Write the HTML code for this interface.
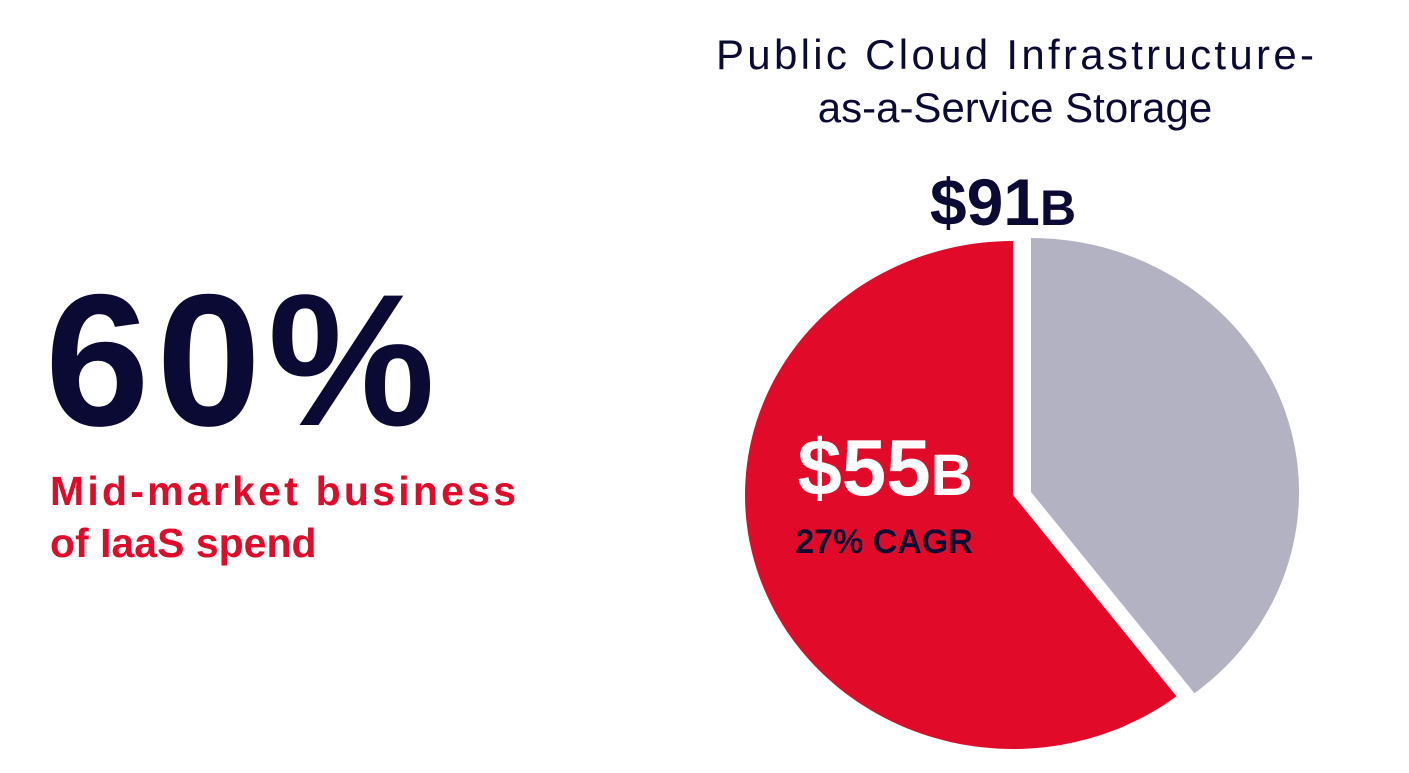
<!DOCTYPE html>
<html><head><meta charset="utf-8"><style>
body{margin:0;width:1409px;height:773px;background:#fff;overflow:hidden;font-family:"Liberation Sans",sans-serif;}
svg{position:absolute;left:0;top:0}
</style></head><body>
<svg width="1409" height="773">
<text x="45" y="425" font-size="188" font-weight="bold" fill="#0b0a35" textLength="390">60%</text>
<text x="50" y="505" font-size="41" font-weight="bold" fill="#e10a28" textLength="466">Mid-market business</text>
<text x="50" y="557" font-size="41" font-weight="bold" fill="#e10a28">of IaaS spend</text>
<text x="1015" y="69" font-size="42" text-anchor="middle" fill="#0b0a35" textLength="598">Public Cloud Infrastructure-</text>
<text x="1015" y="122" font-size="42" text-anchor="middle" fill="#0b0a35">as-a-Service Storage</text>
<g id="slices"></g>
<text x="1003" y="225" font-size="66" font-weight="bold" text-anchor="middle" fill="#0b0a35">$91<tspan font-size="50">B</tspan></text>
<text x="885" y="495" font-size="80" font-weight="bold" text-anchor="middle" fill="#fff">$55<tspan font-size="58">B</tspan></text>
<text x="884" y="553" font-size="34" font-weight="bold" text-anchor="middle" fill="#0b0a35">27% CAGR</text>
</svg>
<script>
const categories=["Mid-market","Other"];
const values=[55,36];
const colors=["#e10a28","#b3b2c2"];
const g=document.getElementById('slices');
const total=values.reduce((a,b)=>a+b,0);
const rx=268, ry=254;
// red: counterclockwise from top; grey: clockwise from top
const centers=[[1013,495],[1031,492]];
function pt(c,a){return [c[0]+rx*Math.sin(a), c[1]-ry*Math.cos(a)];}
let ang=[ -values[0]/total*2*Math.PI, values[1]/total*2*Math.PI ];
values.forEach((v,i)=>{
  const c=centers[i];
  const a0=0,a1=ang[i];
  const p0=pt(c,a0),p1=pt(c,a1);
  const large=Math.abs(a1)>Math.PI?1:0;
  const sweep=a1>0?1:0;
  const p=document.createElementNS('http://www.w3.org/2000/svg','path');
  p.setAttribute('d',`M${c[0]},${c[1]} L${p0[0]},${p0[1]} A${rx},${ry} 0 ${large} ${sweep} ${p1[0]},${p1[1]} Z`);
  p.setAttribute('fill',colors[i]);
  
  
  g.appendChild(p);
});
</script>
</body></html>
